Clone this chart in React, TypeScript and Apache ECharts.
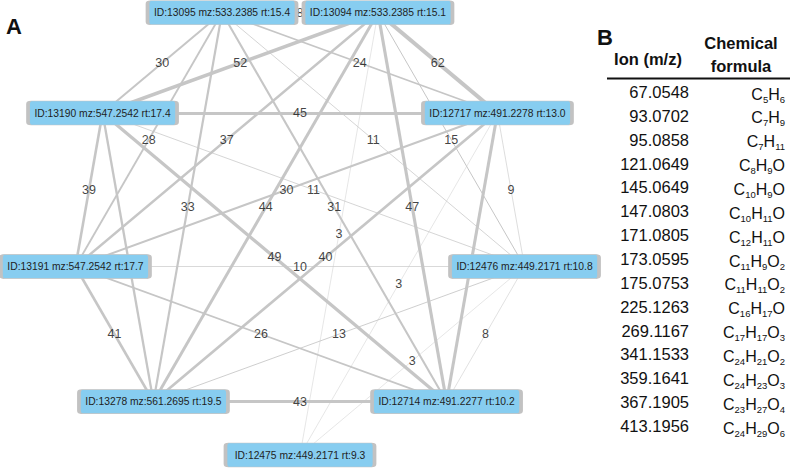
import React, { useEffect, useRef } from 'react';
import * as echarts from 'echarts';

// Nodes, clockwise from the top-right position
const nodeIds = ['13094', '12717', '12476', '12714', '12475', '13278', '13191', '13190', '13095'];
const nodeMz = ['533.2385', '491.2278', '449.2171', '491.2277', '449.2171', '561.2695', '547.2542', '547.2542', '533.2385'];
const nodeRt = ['15.1', '13.0', '10.8', '10.2', '9.3', '19.5', '17.7', '17.4', '15.4'];

// Edges (correlation weights)
const edgeSource = [
  '13095', '13095', '13095', '13095', '13095', '13095', '13095',
  '13094', '13094', '13094', '13094', '13094', '13094', '13094',
  '13190', '13190', '13190', '13190', '13190',
  '12717', '12717', '12717', '12717', '12717',
  '13191', '13191', '13191',
  '12476', '12476', '12476',
  '13278',
];
const edgeTarget = [
  '13094', '13190', '12717', '13191', '12476', '13278', '12714',
  '13190', '12717', '13191', '12476', '13278', '12714', '12475',
  '12717', '13191', '12476', '13278', '12714',
  '13191', '12476', '13278', '12714', '12475',
  '12476', '13278', '12714',
  '13278', '12714', '12475',
  '12714',
];
const edgeWeight = [
  8, 30, 24, 28, 11, 33, 31,
  52, 62, 37, 15, 44, 47, 3,
  45, 39, 11, 35, 49,
  30, 9, 40, 46, 3,
  10, 41, 26,
  13, 8, 3,
  43,
];

// Table (panel B)
const tableHeaders = ['Ion (m/z)', 'Chemical', 'formula'];
const ionMz = [
  '67.0548', '93.0702', '95.0858', '121.0649', '145.0649', '147.0803', '171.0805', '173.0595',
  '175.0753', '225.1263', '269.1167', '341.1533', '359.1641', '367.1905', '413.1956',
];
const ionFormula = [
  'C5H6', 'C7H9', 'C7H11', 'C8H9O', 'C10H9O', 'C10H11O', 'C12H11O', 'C11H9O2',
  'C11H11O2', 'C16H17O', 'C17H17O3', 'C24H21O2', 'C24H23O3', 'C23H27O4', 'C24H29O6',
];

const FONT = '"Liberation Sans", Arial, Helvetica, sans-serif';
const BOX_W = 149, BOX_H = 24;
const BOX_PATH = 'path://M3,0L146,0Q149,0,149,3L149,21Q149,24,146,24L3,24Q0,24,0,21L0,3Q0,0,3,0Z';

function formulaRich(f: string): string {
  const parts = f.match(/[A-Z][a-z]?|\d+/g) || [];
  return parts.map((p) => (/\d/.test(p) ? `{s|${p}}` : `{m|${p}}`)).join('');
}

function txt(x: number, y: number, text: string, size: number, bold: boolean, align: string) {
  return {
    type: 'text', x, y,
    style: {
      text, fontSize: size, fontWeight: bold ? 'bold' : 'normal', fontFamily: FONT, fill: '#111',
      align, verticalAlign: 'middle', textAlign: align, textVerticalAlign: 'middle',
    },
  };
}

export default function App() {
  const ref = useRef<HTMLDivElement>(null);

  useEffect(() => {
    if (!ref.current) return;
    const chart = echarts.init(ref.current, undefined, { renderer: 'svg' });

    // circular layout
    const CX = 300, CY = 227, R = 228;
    const step = 360 / nodeIds.length;
    const pos: Record<string, number[]> = {};
    nodeIds.forEach((id, i) => {
      const a = ((step / 2 + step * i) * Math.PI) / 180;
      pos[id] = [CX + R * Math.sin(a), CY - R * Math.cos(a)];
    });

    const graphNodes = nodeIds.map((id) => ({ name: id, value: pos[id] }));
    const graphLinks = edgeWeight.map((w, i) => ({
      source: edgeSource[i],
      target: edgeTarget[i],
      value: w,
      lineStyle: { width: Math.max(0.45, w / 15) },
    }));
    // labels at the middle of each edge; a label lying under a node box is covered by it
    const covered = (x: number, y: number) =>
      nodeIds.some((id) => Math.abs(x - pos[id][0]) < BOX_W / 2 && Math.abs(y - pos[id][1]) < BOX_H / 2 + 6);
    const edgeLabels = edgeWeight.map((w, i) => {
      const a = pos[edgeSource[i]], b = pos[edgeTarget[i]];
      const mx = (a[0] + b[0]) / 2, my = (a[1] + b[1]) / 2;
      return { value: [mx, my, w], label: { show: !covered(mx, my) } };
    });
    const nodeBoxes = nodeIds.map((id, i) => ({
      value: pos[id],
      name: `ID:${id} mz:${nodeMz[i]} rt:${nodeRt[i]}`,
    }));

    // table graphics
    const rowY0 = 92, rowStep = 23.86;
    const tableEls: any[] = [
      txt(648, 59, tableHeaders[0], 16.5, true, 'center'),
      txt(741, 43, tableHeaders[1], 16.5, true, 'center'),
      txt(741, 66, tableHeaders[2], 16.5, true, 'center'),
      {
        type: 'line', shape: { x1: 607, y1: 78.5, x2: 790, y2: 78.5 },
        style: { stroke: '#111', lineWidth: 1.8 },
      },
      txt(14, 26, 'A', 22, true, 'center'),
      txt(605, 37, 'B', 22, true, 'center'),
    ];
    ionMz.forEach((mz, i) => {
      const y = rowY0 + rowStep * i;
      tableEls.push(txt(689, y, mz, 16.5, false, 'right'));
      tableEls.push({
        type: 'text', x: 785, y: y + 2,
        style: {
          text: formulaRich(ionFormula[i]),
          fontSize: 16, fontFamily: FONT, fill: '#111',
          align: 'right', verticalAlign: 'middle', textAlign: 'right', textVerticalAlign: 'middle',
          rich: {
            m: { fontSize: 16, fontFamily: FONT, fill: '#111', lineHeight: 20 },
            s: { fontSize: 9.5, fontFamily: FONT, fill: '#111', lineHeight: 10, verticalAlign: 'bottom' },
          },
        },
      });
    });

    const option: any = {
      animation: false,
      backgroundColor: '#ffffff',
      grid: { left: 0, right: 0, top: 0, bottom: 0 },
      xAxis: { type: 'value', min: 0, max: 790, show: false },
      yAxis: { type: 'value', min: 0, max: 468, inverse: true, show: false },
      graphic: { elements: tableEls },
      series: [
        {
          type: 'graph',
          coordinateSystem: 'cartesian2d',
          z: 1,
          silent: true,
          symbol: 'circle',
          symbolSize: 1,
          itemStyle: { opacity: 0 },
          label: { show: false },
          lineStyle: { color: '#c6c6c6', opacity: 1, curveness: 0 },
          data: graphNodes,
          links: graphLinks,
        },
        {
          type: 'scatter',
          z: 2,
          silent: true,
          symbolSize: 0,
          data: edgeLabels,
          label: {
            show: true,
            position: 'inside',
            formatter: (p: any) => String(p.value[2]),
            fontSize: 12.5,
            fontFamily: FONT,
            color: '#111',
            textBorderWidth: 0,
            textBorderColor: 'transparent',
          },
        },
        {
          type: 'scatter',
          z: 3,
          silent: true,
          symbol: BOX_PATH,
          symbolSize: [BOX_W, BOX_H],
          itemStyle: { color: '#87cdf0', borderColor: '#c2c2c2', borderWidth: 1.5, opacity: 1 },
          data: nodeBoxes,
          label: {
            show: true,
            position: 'inside',
            formatter: (p: any) => p.name,
            fontSize: 10.3,
            fontFamily: FONT,
            color: '#1e1e1e',
            textBorderWidth: 0,
            textBorderColor: 'transparent',
          },
        },
      ],
    };

    chart.setOption(option);
    return () => chart.dispose();
  }, []);

  return (
    <div
      ref={ref}
      style={{ position: 'fixed', left: 0, top: 0, width: 790, height: 468, background: '#fff' }}
    />
  );
}
